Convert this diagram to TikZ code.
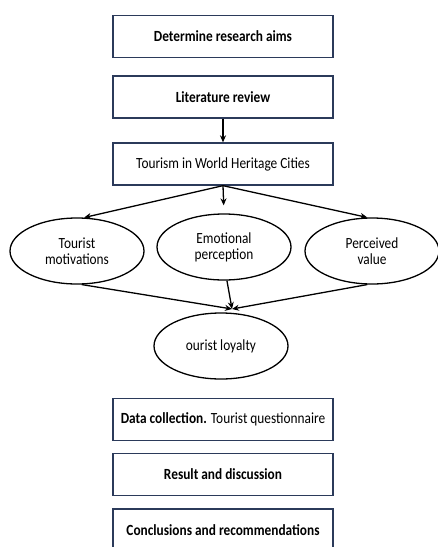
\documentclass[tikz,border=0pt]{standalone}
\usepackage{fontspec}
\setmainfont{Carlito}[FakeStretch=0.86]
\usetikzlibrary{shapes.geometric,arrows.meta}
\definecolor{boxblue}{HTML}{2B3A5A}
\begin{document}
\begin{tikzpicture}[x=1pt,y=-1pt,
  stepbox/.style={draw=boxblue,line width=1.3pt,minimum width=220pt,minimum height=42pt,inner sep=0pt,font=\fontsize{15.5}{17}\selectfont},
  oval/.style={draw=black,line width=1.3pt,ellipse,minimum width=134pt,minimum height=66pt,inner sep=0pt,align=center,font=\fontsize{15.5}{16}\selectfont},
  arr/.style={draw=black,line width=1.3pt,-{Stealth[length=7pt,width=6pt]}},
  plain/.style={draw=black,line width=1.3pt}]
\useasboundingbox (0,0) rectangle (438,547);
\clip (0,0) rectangle (438,547);
\node[stepbox] (aims) at (223,36.5) {\textbf{Determine research aims}};
\node[stepbox] (lit) at (223,97) {\textbf{Literature review}};
\node[stepbox] (tour) at (223,164) {Tourism in World Heritage Cities};
\node[oval] (mot) at (77,251) {Tourist\\motivations};
\node[oval] (emo) at (224,247) {Emotional\\perception};
\node[oval] (val) at (372,251) {Perceived\\value};
\node[oval] (loy) at (221,346) {ourist loyalty};
\coordinate (j) at (232,309);
\node[stepbox] (data) at (223,419.5) {\textbf{Data collection.} Tourist questionnaire};
\node[stepbox] (res) at (223,474.5) {\textbf{Result and discussion}};
\node[stepbox] (conc) at (223,530) {\textbf{Conclusions and recommendations}};
\draw[arr] (lit.south) -- (tour.north);
\draw[arr] (tour.south) -- (mot.78);
\draw[arr,shorten >=8pt] (tour.south) -- (emo.north);
\draw[arr] (tour.south) -- (val.98);
\draw[arr] (mot.-82) -- (j);
\draw[arr] (emo.-85) -- (j);
\draw[arr] (val.-98) -- (j);
\end{tikzpicture}
\end{document}
